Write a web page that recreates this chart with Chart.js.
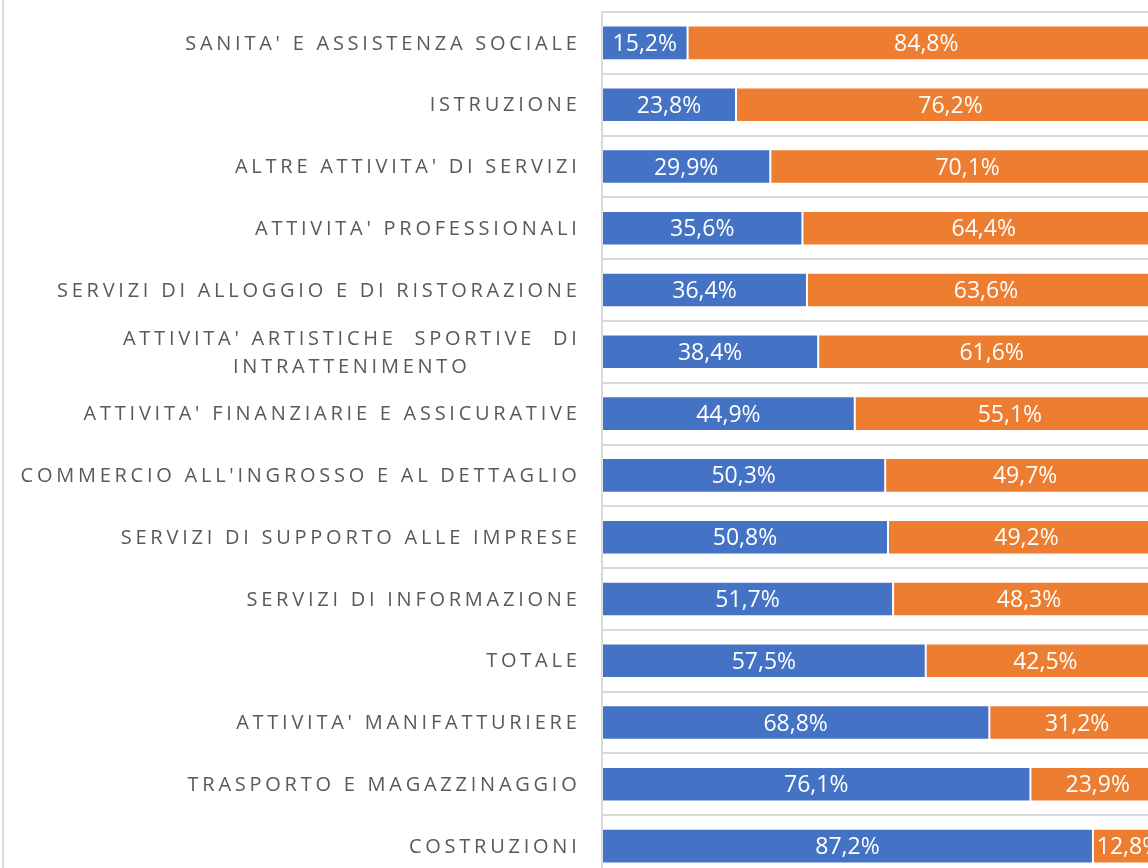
<!DOCTYPE html>
<html>
<head>
<meta charset="utf-8">
<script src="https://cdn.jsdelivr.net/npm/chart.js@4.4.1/dist/chart.umd.min.js"></script>
<style>
  html, body { margin: 0; padding: 0; background: #ffffff; overflow: hidden; width: 1148px; height: 868px; }
  #wrap { position: absolute; left: 0; top: 0; width: 1166px; height: 878px; }
  #leftline { position: absolute; left: 2px; top: 0; width: 2px; height: 868px; background: #d9d9d9; }
</style>
</head>
<body>
<div id="wrap"><canvas id="c" width="1166" height="878" style="width:1166px;height:878px"></canvas></div>
<div id="leftline"></div>
<script>
const categories = [
  "SANITA' E ASSISTENZA SOCIALE",
  "ISTRUZIONE",
  "ALTRE ATTIVITA' DI SERVIZI",
  "ATTIVITA' PROFESSIONALI",
  "SERVIZI DI ALLOGGIO E DI RISTORAZIONE",
  ["ATTIVITA' ARTISTICHE  SPORTIVE  DI", "INTRATTENIMENTO"],
  "ATTIVITA' FINANZIARIE E ASSICURATIVE",
  "COMMERCIO ALL'INGROSSO E AL DETTAGLIO",
  "SERVIZI DI SUPPORTO ALLE IMPRESE",
  "SERVIZI DI INFORMAZIONE",
  "TOTALE",
  "ATTIVITA' MANIFATTURIERE",
  "TRASPORTO E MAGAZZINAGGIO",
  "COSTRUZIONI"
];
const seriesBlue = [15.2, 23.8, 29.9, 35.6, 36.4, 38.4, 44.9, 50.3, 50.8, 51.7, 57.5, 68.8, 76.1, 87.2];
const seriesOrange = [84.8, 76.2, 70.1, 64.4, 63.6, 61.6, 55.1, 49.7, 49.2, 48.3, 42.5, 31.2, 23.9, 12.8];
const seriesNames = ["Uomini", "Donne"];

const FONT = "'Open Sans', 'Noto Sans', sans-serif";

const labelPlugin = {
  id: 'customLabels',
  afterDatasetsDraw(chart) {
    const ctx = chart.ctx;
    // data labels
    ctx.save();
    ctx.fillStyle = '#ffffff';
    ctx.font = '23px ' + FONT;
    ctx.textAlign = 'center';
    ctx.textBaseline = 'middle';
    chart.data.datasets.forEach((ds, di) => {
      const meta = chart.getDatasetMeta(di);
      meta.data.forEach((bar, i) => {
        const v = ds.data[i];
        const txt = v.toFixed(1).replace('.', ',') + '%';
        const cx = (bar.x + bar.base) / 2;
        ctx.fillText(txt, cx, bar.y + 1.5);
      });
    });
    ctx.restore();

    // category labels
    const yScale = chart.scales.y;
    ctx.save();
    ctx.fillStyle = '#595959';
    ctx.font = '20px ' + FONT;
    ctx.letterSpacing = '3.75px';
    ctx.textBaseline = 'middle';
    const rightX = 580.5;
    categories.forEach((lab, i) => {
      const y = yScale.getPixelForValue(i);
      if (Array.isArray(lab)) {
        const widths = lab.map(l => ctx.measureText(l).width);
        const maxW = Math.max(...widths);
        const cx = rightX - maxW / 2;
        ctx.textAlign = 'center';
        const lh = 28;
        const start = y - lh * (lab.length - 1) / 2;
        lab.forEach((l, k) => ctx.fillText(l, cx, start + k * lh + 1));
      } else {
        ctx.textAlign = 'right';
        ctx.fillText(lab, rightX, y + 1);
      }
    });
    ctx.restore();
  }
};

new Chart(document.getElementById('c'), {
  type: 'bar',
  data: {
    labels: categories,
    datasets: [
      { label: seriesNames[0], data: seriesBlue, backgroundColor: '#4472C4', borderColor: 'rgba(255,255,255,0.3)', borderWidth: 1, borderSkipped: false },
      { label: seriesNames[1], data: seriesOrange, backgroundColor: '#ED7D31', borderColor: 'rgba(255,255,255,0.3)', borderWidth: 1, borderSkipped: false }
    ]
  },
  options: {
    indexAxis: 'y',
    responsive: false,
    animation: false,
    devicePixelRatio: 1,
    layout: { padding: { top: 12, right: 1, bottom: 1, left: 0 } },
    datasets: { bar: { barPercentage: 0.56, categoryPercentage: 1.0 } },
    plugins: { legend: { display: false }, tooltip: { enabled: false } },
    scales: {
      x: {
        stacked: true,
        min: 0, max: 100,
        display: false
      },
      y: {
        stacked: true,
        ticks: { display: false },
        grid: { color: '#d9d9d9', lineWidth: 2, drawTicks: false, offset: true },
        border: { display: true, color: '#d9d9d9', width: 2 },
        afterFit(scale) { scale.width = 602; }
      }
    }
  },
  plugins: [labelPlugin]
});
</script>
</body>
</html>
